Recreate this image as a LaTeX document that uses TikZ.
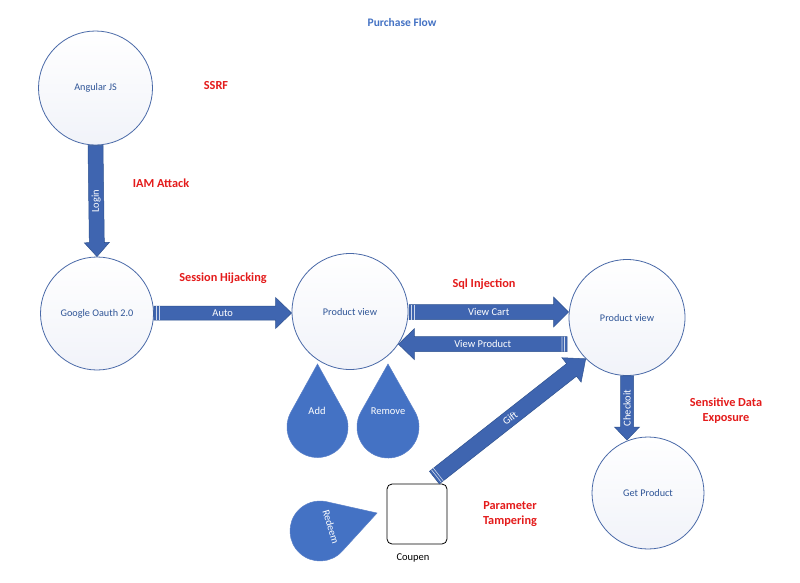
\documentclass[tikz,border=0pt]{standalone}
\usepackage{fontspec}
\setmainfont{Carlito}
\usetikzlibrary{calc}
\definecolor{circb}{HTML}{4A6AA8}
\definecolor{circt}{HTML}{2F5597}
\definecolor{arrf}{HTML}{3F65B0}
\definecolor{arrd}{HTML}{2F528F}
\definecolor{dropf}{HTML}{4472C4}
\definecolor{dropd}{HTML}{5A80C8}
\definecolor{attk}{HTML}{E41B1B}
\definecolor{titl}{HTML}{4472C4}
\definecolor{shadebot}{HTML}{F1F3F9}
\tikzset{
  proc/.style={circle, draw=circb, line width=0.8pt, top color=white, bottom color=shadebot,
    inner sep=0pt, text=circt, font=\fontsize{10.2}{12}\selectfont},
  blockarr/.style={fill=arrf, draw=arrd, line width=0.5pt, line join=miter},
  arrlabel/.style={text=white, inner sep=0pt, font=\fontsize{10.5}{12}\selectfont},
  stripe/.style={draw=white!75!arrf, line width=0.6pt},
  dropstyle/.style={fill=dropf, draw=dropd, line width=0.5pt},
  droplabel/.style={text=white, inner sep=0pt, font=\fontsize{10.5}{12}\selectfont},
  attack/.style={text=attk, inner sep=0pt, align=center, font=\fontsize{12.3}{15}\selectfont\bfseries},
  titlestyle/.style={text=titl, inner sep=0pt, font=\fontsize{11.5}{14}\selectfont\bfseries},
  coupon/.style={rectangle, draw=black, line width=0.8pt, rounded corners=5pt, fill=white,
    minimum width=60pt, minimum height=60pt, inner sep=0pt},
  plain/.style={text=black, inner sep=0pt, font=\fontsize{10.5}{12}\selectfont}
}
% #1 tail, #2 tip, #3 shaft half width, #4 head half width, #5 head length, #6 label, #7 label rotation, #8 name
\newcommand{\blockarrow}[8]{%
  \coordinate (#8-neck) at ($(#2)!#5pt!(#1)$);
  \draw[blockarr] ($(#1)!#3pt!90:(#2)$) -- ($(#8-neck)!#3pt!90:(#2)$)
    -- ($(#8-neck)!#4pt!90:(#2)$) -- (#2) -- ($(#8-neck)!#4pt!-90:(#2)$)
    -- ($(#8-neck)!#3pt!-90:(#2)$) -- ($(#1)!#3pt!-90:(#2)$) -- cycle;
  \node[arrlabel, rotate=#7] (#8) at ($(#1)!0.5!(#2)$) {#6};
}
% #1 tail, #2 tip, #3 shaft half width, #4 name
\newcommand{\arrowstripes}[4]{%
  \coordinate (#4-s1) at ($(#1)!2.5pt!(#2)$);
  \coordinate (#4-s2) at ($(#1)!5pt!(#2)$);
  \draw[stripe] ($(#4-s1)!#3pt!90:(#2)$) -- ($(#4-s1)!#3pt!-90:(#2)$);
  \draw[stripe] ($(#4-s2)!#3pt!90:(#2)$) -- ($(#4-s2)!#3pt!-90:(#2)$);
}
% #1 centre, #2 rotation, #3 distance centre-tip, #4 radius
\newcommand{\teardrop}[4]{%
  \begin{scope}[shift={(#1)}, rotate=#2]
    \pgfmathsetmacro\tdang{asin(#4/#3)}
    \draw[dropstyle] (90:#3pt) -- (\tdang:#4pt)
      arc[start angle=\tdang, end angle={-180-\tdang}, radius=#4pt] -- cycle;
  \end{scope}
}
\begin{document}
\begin{tikzpicture}[x=1pt, y=-1pt]
  \useasboundingbox (0,0) rectangle (800,582);
  \fill[white] (0,0) rectangle (800,582);

  % title
  \node[titlestyle] (title) at (402,23) {Purchase Flow};

  % process circles
  \node[proc, minimum size=114pt] (ang) at (95.5,88) {Angular JS};
  \node[proc, minimum size=113pt] (goo) at (97,313.5) {Google Oauth 2.0};
  \node[proc, minimum size=116pt] (pv1) at (350,311.5) {Product view};
  \node[proc, minimum size=116pt] (pv2) at (627,317.5) {Product view};
  \node[proc, minimum size=112pt] (get) at (648,493) {Get Product};

  % coupon box
  \node[coupon] (cou) at (417,514) {};
  \node[plain] (coul) at (413,558) {Coupen};

  % connector end points
  \coordinate (loginA) at (ang.south);
  \coordinate (loginB) at (goo.north);
  \coordinate (autoA) at (goo.east |- 0,313);
  \coordinate (autoB) at (pv1.west |- 0,313);
  \coordinate (vcA) at (409,312);
  \coordinate (vcB) at (pv2.west |- 0,312);
  \coordinate (vpA) at (567,344);
  \coordinate (vpB) at (pv1.-34.7);
  \coordinate (giftA) at ($(cou.north east)+(-13,-6)$);
  \coordinate (giftB) at (pv2.-135);
  \coordinate (chkA) at (pv2.south);
  \coordinate (chkB) at (pv2.south |- 0,440);

  % block arrows
  \blockarrow{loginA}{loginB}{7.5}{12.5}{14}{Login}{90}{login}
  \blockarrow{autoA}{autoB}{7}{15.5}{16}{Auto}{0}{auto}
  \arrowstripes{autoA}{autoB}{7}{auto}
  \blockarrow{vcA}{vcB}{7.5}{15}{15}{View Cart}{0}{vcart}
  \arrowstripes{vcA}{vcB}{7.5}{vcart}
  \blockarrow{vpA}{vpB}{7.5}{15.5}{16}{View Product}{0}{vprod}
  \arrowstripes{vpA}{vpB}{7.5}{vprod}
  \blockarrow{giftA}{giftB}{8}{15.5}{18}{Gift}{38.3}{gift}
  \arrowstripes{giftA}{giftB}{8}{gift}
  \blockarrow{chkA}{chkB}{6.5}{12.5}{13}{Checkoit}{90}{chk}

  % drops
  \coordinate (addc) at (317.5,427);
  \coordinate (remc) at (388,427);
  \coordinate (redc) at (320,531);
  \teardrop{addc}{0}{63}{30.5}
  \teardrop{remc}{0}{63}{31}
  \teardrop{redc}{-72.5}{59.8}{30}
  \node[droplabel] (addl) at (317,411) {Add};
  \node[droplabel] (reml) at (388,411) {Remove};
  \node[droplabel, rotate=-73] (redl) at (331,527) {Redeem};

  % attack labels
  \node[attack] (ssrf) at (216,86) {SSRF};
  \node[attack] (iam) at (161,183) {IAM Attack};
  \node[attack] (sess) at (223,278) {Session Hijacking};
  \node[attack] (sqli) at (484,284) {Sql Injection};
  \node[attack] (sde) at (726,410.5) {Sensitive Data\\Exposure};
  \node[attack] (ptm) at (510,514.5) {Parameter\\Tampering};
\end{tikzpicture}
\end{document}
